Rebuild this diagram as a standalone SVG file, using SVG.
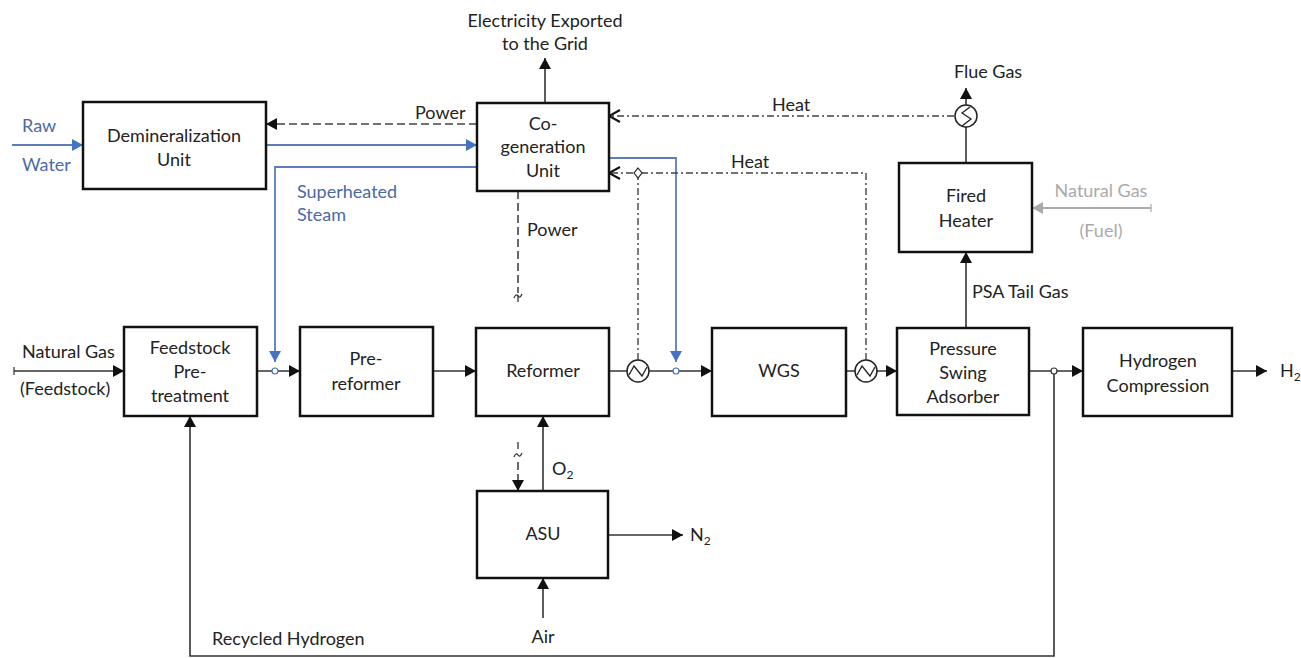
<svg xmlns="http://www.w3.org/2000/svg" width="1301" height="658" viewBox="0 0 1301 658">
<defs>
<style>
.box{fill:#fff;stroke:#111;stroke-width:2.5}
.t{font-family:Lato,"Open Sans",sans-serif;font-size:18px;fill:#222;text-anchor:middle}
.tl{font-family:Lato,"Open Sans",sans-serif;font-size:18px;fill:#222}
.blue{fill:#4a6aa5}
.gray{fill:#aaa}
.ln{fill:none;stroke:#333;stroke-width:1.6}
.bl{fill:none;stroke:#5b7db8;stroke-width:1.8}
.gl{fill:none;stroke:#aaa;stroke-width:1.8}
.pw{fill:none;stroke:#444;stroke-width:1.6;stroke-dasharray:8 4}
.ht{fill:none;stroke:#444;stroke-width:1.4;stroke-dasharray:7 3 2 3}
.hx{fill:#fff;stroke:#222;stroke-width:1.5}
</style>
<marker id="a" markerUnits="userSpaceOnUse" markerWidth="12" markerHeight="12" refX="11" refY="6" orient="auto"><path d="M0,0 L11,6 L0,12 z" fill="#111"/></marker>
<marker id="ab" markerUnits="userSpaceOnUse" markerWidth="12" markerHeight="12" refX="11" refY="6" orient="auto"><path d="M0,0 L11,6 L0,12 z" fill="#4472c4"/></marker>
<marker id="ag" markerUnits="userSpaceOnUse" markerWidth="12" markerHeight="12" refX="11" refY="6" orient="auto"><path d="M0,0 L11,6 L0,12 z" fill="#aaa"/></marker>
<marker id="ao" markerUnits="userSpaceOnUse" markerWidth="14" markerHeight="14" refX="12" refY="7" orient="auto"><path d="M1,1 L12,7 L1,13" fill="none" stroke="#111" stroke-width="2"/></marker>
</defs>

<g id="connectors">
<path class="bl" d="M12,145 H83" marker-end="url(#ab)"/>
<path class="bl" d="M266,145 H477" marker-end="url(#ab)"/>
<path class="bl" d="M477,167 H275 V362" marker-end="url(#ab)"/>
<path class="bl" d="M609,158 H676 V362" marker-end="url(#ab)"/>
<path class="pw" d="M477,124 H266" marker-end="url(#a)"/>
<path class="ln" d="M545,103 V58" marker-end="url(#a)"/>
<path class="pw" d="M518,191 V293"/>
<path d="M514,298 q2,-5 4,-2 q2,3 4,-2" fill="none" stroke="#333" stroke-width="1.3"/>
<path d="M518,295 V302" stroke="#333" stroke-width="1.3"/>
<path d="M518,442 V449" stroke="#333" stroke-width="1.3"/>
<path d="M514,457 q2,-5 4,-2 q2,3 4,-2" fill="none" stroke="#333" stroke-width="1.3"/>
<path class="pw" d="M518,462 V491" marker-end="url(#a)"/>
<path class="ht" d="M954,116 H609" marker-end="url(#ao)"/>
<path class="ht" d="M866,360 V173 H609" marker-end="url(#ao)"/>
<path class="ht" d="M638,360 V173"/>
<path d="M638,168 L642,173 L638,178 L634,173 z" fill="#fff" stroke="#222" stroke-width="1.2"/>
<path class="ln" d="M14,371 H124" marker-end="url(#a)"/>
<path class="ln" d="M257,371 H300" marker-end="url(#a)"/>
<path class="ln" d="M433,371 H476" marker-end="url(#a)"/>
<path class="ln" d="M609,371 H712" marker-end="url(#a)"/>
<path class="ln" d="M846,371 H897" marker-end="url(#a)"/>
<path class="ln" d="M1029,371 H1083" marker-end="url(#a)"/>
<path class="ln" d="M1232,371 H1267" marker-end="url(#a)"/>
<circle cx="275" cy="371" r="3" fill="#fff" stroke="#4472c4" stroke-width="1.2"/>
<circle cx="676" cy="371" r="3" fill="#fff" stroke="#4472c4" stroke-width="1.2"/>
<path class="ln" d="M1054,371 V656 H190 V416" marker-end="url(#a)"/>
<circle cx="1054" cy="371" r="3" fill="#fff" stroke="#333" stroke-width="1.2"/>
<path class="ln" d="M543,491 V416" marker-end="url(#a)"/>
<path class="ln" d="M608,535 H683" marker-end="url(#a)"/>
<path class="ln" d="M543,618 V578" marker-end="url(#a)"/>
<path class="ln" d="M966,328 V252" marker-end="url(#a)"/>
<path class="ln" d="M966,163 V127"/>
<path class="ln" d="M966,105 V88" marker-end="url(#a)"/>
<path class="gl" d="M1151,208 H1032" marker-end="url(#ag)"/>
<path d="M1151,204 V212" stroke="#aaa" stroke-width="1.2"/>
<path d="M14,367 V375" stroke="#333" stroke-width="1.2"/>
<g>
<circle class="hx" cx="638" cy="371" r="11"/>
<path d="M629,375 L634,366 L642,376 L647,367" fill="none" stroke="#222" stroke-width="1.3"/>
<circle class="hx" cx="866" cy="371" r="11"/>
<path d="M857,375 L862,366 L870,376 L875,367" fill="none" stroke="#222" stroke-width="1.3"/>
<circle class="hx" cx="966" cy="116" r="11"/>
<path d="M970,107 L962,113 L971,119 L962,126" fill="none" stroke="#222" stroke-width="1.3"/>
</g>
</g>

<g id="demin"><rect class="box" x="83" y="102" width="183" height="87"/>
<text class="t" x="174" y="142">Demineralization</text><text class="t" x="174" y="166">Unit</text></g>
<g id="cogen"><rect class="box" x="477" y="103" width="132" height="88"/>
<text class="t" x="543" y="130">Co-</text><text class="t" x="543" y="153">generation</text><text class="t" x="543" y="177">Unit</text></g>
<g id="feedstock"><rect class="box" x="124" y="327" width="133" height="89"/>
<text class="t" x="190" y="354">Feedstock</text><text class="t" x="190" y="378">Pre-</text><text class="t" x="190" y="402">treatment</text></g>
<g id="prereformer"><rect class="box" x="300" y="327" width="133" height="89"/>
<text class="t" x="366" y="365">Pre-</text><text class="t" x="366" y="390">reformer</text></g>
<g id="reformer"><rect class="box" x="476" y="328" width="133" height="88"/>
<text class="t" x="543" y="377">Reformer</text></g>
<g id="wgs"><rect class="box" x="712" y="328" width="134" height="88"/>
<text class="t" x="779" y="377">WGS</text></g>
<g id="psa"><rect class="box" x="897" y="328" width="132" height="87"/>
<text class="t" x="963" y="355">Pressure</text><text class="t" x="963" y="379">Swing</text><text class="t" x="963" y="403">Adsorber</text></g>
<g id="h2comp"><rect class="box" x="1083" y="328" width="149" height="88"/>
<text class="t" x="1158" y="367">Hydrogen</text><text class="t" x="1158" y="392">Compression</text></g>
<g id="fired"><rect class="box" x="899" y="163" width="133" height="89"/>
<text class="t" x="966" y="202">Fired</text><text class="t" x="966" y="227">Heater</text></g>
<g id="asu"><rect class="box" x="477" y="491" width="131" height="87"/>
<text class="t" x="543" y="540">ASU</text></g>

<g id="labels">
<text class="tl blue" x="22" y="132">Raw</text>
<text class="tl blue" x="22" y="171">Water</text>
<text class="tl blue" x="297" y="198">Superheated</text>
<text class="tl blue" x="297" y="221">Steam</text>
<text class="t" x="545" y="27">Electricity Exported</text>
<text class="t" x="545" y="50">to the Grid</text>
<text class="tl" x="415" y="119">Power</text>
<text class="tl" x="527" y="236">Power</text>
<text class="tl" x="772" y="111">Heat</text>
<text class="tl" x="731" y="168">Heat</text>
<text class="t" x="988" y="78">Flue Gas</text>
<text class="t gray" x="1101" y="197">Natural Gas</text>
<text class="t gray" x="1101" y="237">(Fuel)</text>
<text class="tl" x="972" y="298">PSA Tail Gas</text>
<text class="tl" x="22" y="358">Natural Gas</text>
<text class="tl" x="20" y="395">(Feedstock)</text>
<text class="tl" x="1280" y="377">H<tspan font-size="12" dy="4">2</tspan></text>
<text class="tl" x="552" y="475">O<tspan font-size="12" dy="4">2</tspan></text>
<text class="tl" x="690" y="541">N<tspan font-size="12" dy="4">2</tspan></text>
<text class="t" x="543" y="643">Air</text>
<text class="tl" x="212" y="645">Recycled Hydrogen</text>
</g>
</svg>
